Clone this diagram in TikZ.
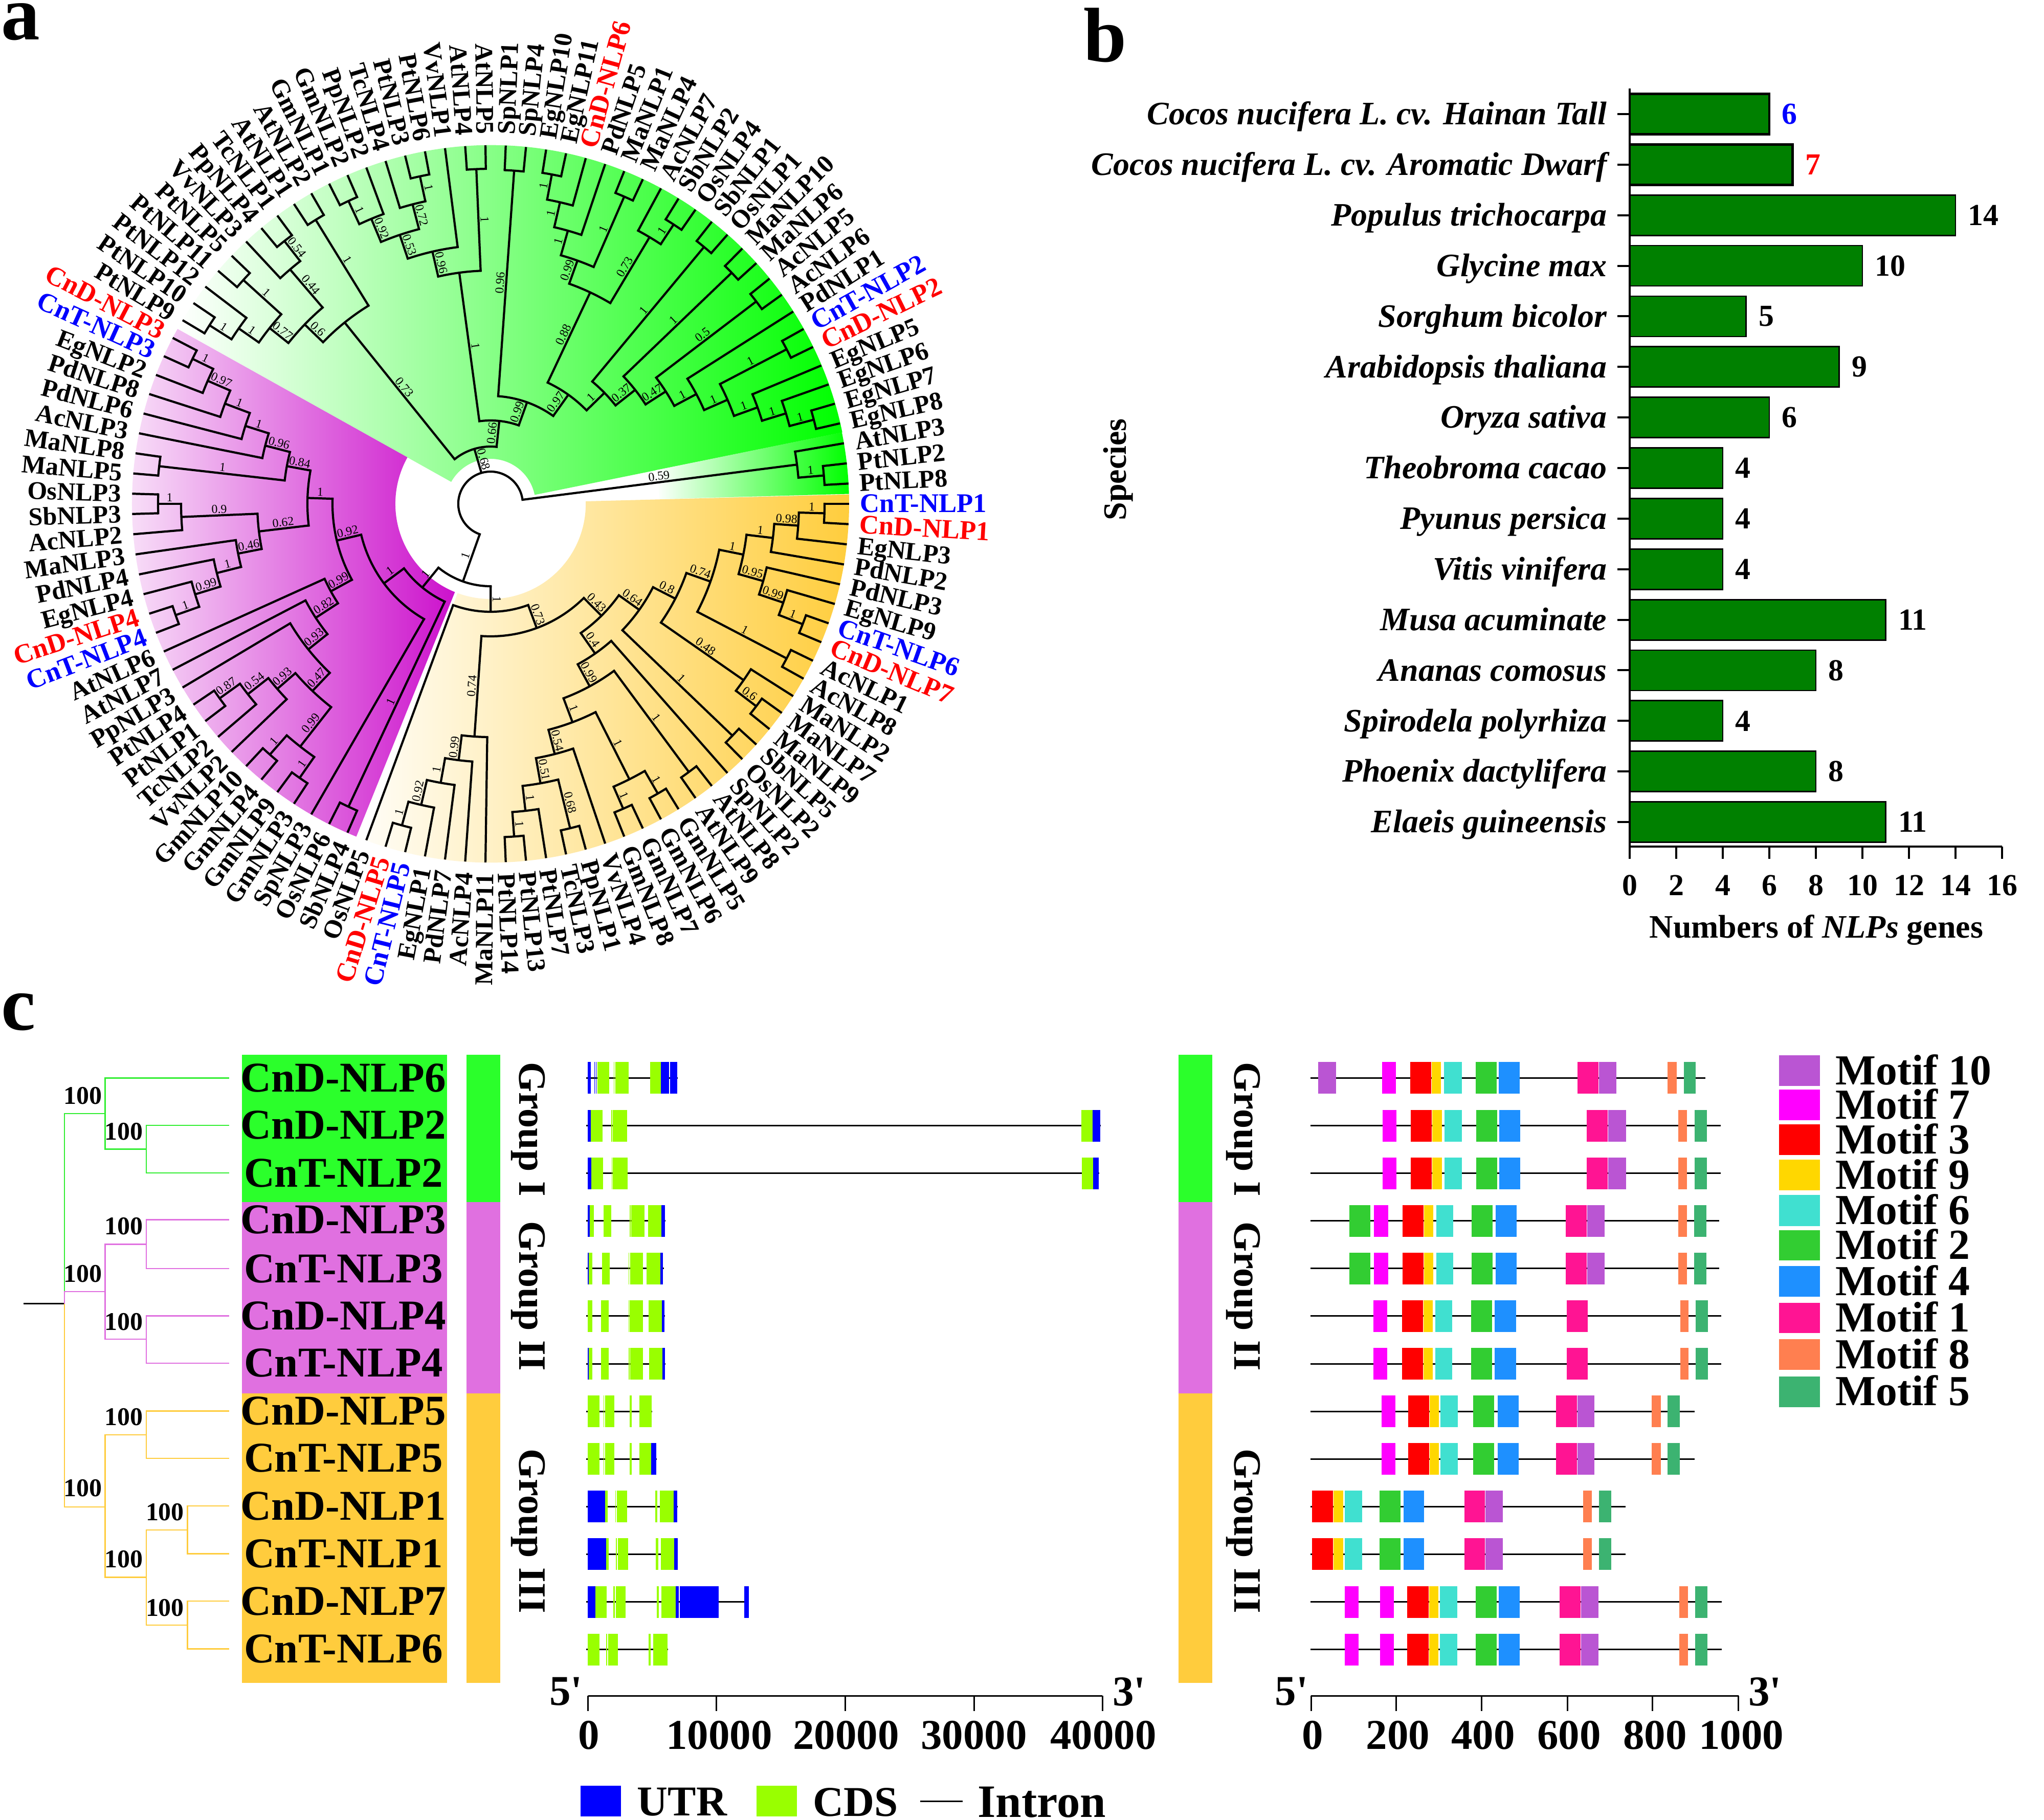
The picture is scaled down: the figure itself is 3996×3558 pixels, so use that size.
\documentclass[tikz,border=0pt]{standalone}
\usepackage{fontspec}
\setmainfont{Liberation Serif}
\newcommand\fsz[1]{\fontsize{#1}{#1}\selectfont}
\newcommand\rd[1]{\textcolor{red}{\fsz{15pt}#1}}
\newcommand\bl[1]{\textcolor{blue}{\fsz{15pt}#1}}
\definecolor{grpG}{HTML}{2BFF2B}
\definecolor{grpP}{HTML}{E070E0}
\definecolor{grpY}{HTML}{FFCC3D}
\definecolor{treeG}{HTML}{33EE33}
\definecolor{U}{HTML}{0000FF}
\definecolor{C}{HTML}{99FF00}
\definecolor{Ma}{HTML}{BA55D3}
\definecolor{Mb}{HTML}{FF00FF}
\definecolor{Mc}{HTML}{FF0000}
\definecolor{Md}{HTML}{FFD700}
\definecolor{Me}{HTML}{40E0D0}
\definecolor{Mf}{HTML}{32CD32}
\definecolor{Mg}{HTML}{1E90FF}
\definecolor{Mh}{HTML}{FF1493}
\definecolor{Mi}{HTML}{FF7F50}
\definecolor{Mj}{HTML}{3CB371}
\definecolor{barG}{HTML}{008000}
\definecolor{purL}{RGB}{250,232,250}
\definecolor{purR}{RGB}{204,17,204}
\definecolor{yelL}{RGB}{255,253,246}
\definecolor{yelR}{RGB}{255,205,60}
\tikzset{
  branch/.style={line width=1.2pt,black},
  suplab/.style={font=\fsz{6.8pt},inner sep=1pt,text height=4.5pt,text depth=0pt},
  leaflab/.style={font=\bfseries\fsz{14.2pt},inner sep=0pt,text height=9.4pt,text depth=0pt},
  panel/.style={font=\bfseries\fsz{43pt},inner sep=0pt,anchor=base west},
  spec/.style={font=\bfseries\itshape\fsz{18.2pt},inner sep=0pt,anchor=east,text height=12.3pt,text depth=3.9pt},
  numb/.style={font=\bfseries\fsz{17pt},inner sep=0pt},
  ttl/.style={font=\bfseries\fsz{18.2pt},inner sep=0pt},
  axl/.style={line width=1.14pt,black},
  big/.style={font=\bfseries\fsz{23.6pt},inner sep=0pt},
  grplab/.style={font=\bfseries\fsz{21.6pt},inner sep=0pt,rotate=-90},
  boot/.style={font=\bfseries\fsz{14.2pt},inner sep=0pt},
  intron/.style={line width=.85pt,black},
  motif/.style={font=\bfseries\fsz{23.8pt},inner sep=0pt,anchor=west},
  tlg/.style={line width=.7pt,treeG},
  tlp/.style={line width=.7pt,grpP},
  tly/.style={line width=.7pt,grpY}
}
% clade: name, radius, child, child, support of the branch leading to it
\newcommand\brn[2]{%
  \edef\chang{\csname a@#2\endcsname}%
  \edef\chrad{\csname r@#2\endcsname}%
  \draw[branch] (\chang:#1) -- (\chang:\chrad);
  \edef\supt{\csname s@#2\endcsname}%
  \ifx\supt\empty\else
    \pgfmathsetmacro\midr{(#1+\chrad)/2}%
    \pgfmathtruncatemacro\flp{cos(\chang)<0 ? 1 : 0}%
    \pgfmathsetmacro\rtt{\chang+180*\flp}%
    \node[suplab,rotate=\rtt,anchor=south] at (\chang:\midr) {\supt};
  \fi
}
\newcommand\cln[5]{%
  \pgfmathsetmacro\angA{\csname a@#3\endcsname}%
  \pgfmathsetmacro\angB{\csname a@#4\endcsname}%
  \pgfmathsetmacro\angM{(\angA+\angB)/2}%
  \expandafter\xdef\csname a@#1\endcsname{\angM}%
  \expandafter\xdef\csname r@#1\endcsname{#2}%
  \expandafter\gdef\csname s@#1\endcsname{#5}%
  \draw[branch,line cap=rect] (\angA:#2) arc[start angle=\angA,end angle=\angB,radius=#2*0.28453pt];
  \brn{#2}{#3}\brn{#2}{#4}%
}
\newcommand\sect[4]{(#1:#4) arc[start angle=#1,end angle=#2,radius=#4*0.28453pt] -- (#2:#3) arc[start angle=#2,end angle=#1,radius=#3*0.28453pt] -- cycle}
\newcommand\grow[3]{%
  \pgfmathsetmacro\yy{2107.4+93.1*#1}%
  \draw[intron] (56,\yy) -- (#2,\yy);
  \foreach \pa/\pb/\colr in {#3}{\fill[fill=\colr] (\pa,\yy-31) rectangle (\pb,\yy+31);}
}
\newcommand\mrow[3]{%
  \pgfmathsetmacro\yy{2107.4+93.1*#1}%
  \draw[intron] (242,\yy) -- (#2,\yy);
  \foreach \pa/\pb/\colr in {#3}{\fill[fill=\colr] (\pa,\yy-31) rectangle (\pb,\yy+31);}
}
\begin{document}
\begin{tikzpicture}[x=0.01cm,y=-0.01cm]
\fill[white] (0,0) rectangle (3996,3558);
\useasboundingbox (0,0) rectangle (3996,3558);
% ---------- panel letters
\node[panel] (pa) at (2,78) {a};
\node[panel] (pb) at (2118,121) {b};
\node[panel] (pc) at (2,2013) {c};
% ---------- panel a
\begin{scope}[shift={(959,985)},y=0.01cm]
\shade[left color=white,right color=green] \sect{150.8}{11.5}{88}{701};
\shade[left color=white,right color=green] \sect{11.5}{1.6}{330}{701};
\shade[left color=purL,right color=purR] \sect{-209.2}{-112}{186}{701};
\shade[left color=yelL,right color=yelR] \sect{1.5}{-110.3}{186}{701};
\foreach \i in {0,...,110}{%
  \pgfmathsetmacro\tmpa{-3.24324*\i}%
  \expandafter\xdef\csname a@L\i\endcsname{\tmpa}%
  \expandafter\xdef\csname r@L\i\endcsname{701}%
  \expandafter\gdef\csname s@L\i\endcsname{}%
}
% yellow
\cln{Y26}{653}{L0}{L1}{1}
\cln{Y25}{603}{L2}{Y26}{0.98}
\cln{Y22}{556}{L3}{Y25}{1}
\cln{Y24}{654}{L6}{L7}{1}
\cln{Y23}{604}{L5}{Y24}{0.99}
\cln{Y21}{554}{L4}{Y23}{0.95}
\cln{Y20}{504}{Y21}{Y22}{1}
\cln{Y19}{653}{L8}{L9}{1}
\cln{Y17}{456}{Y19}{Y20}{0.74}
\cln{Y18}{653}{L11}{L12}{0.6}
\cln{Y16}{603}{L10}{Y18}{0.48}
\cln{Y15}{406}{Y16}{Y17}{0.8}
\cln{Y14}{655}{L13}{L14}{1}
\cln{Y9}{357}{Y14}{Y15}{0.64}
\cln{Y34}{652}{L26}{L27}{1}
\cln{Y32}{604}{L25}{Y34}{1}
\cln{Y33}{653}{L23}{L24}{0.68}
\cln{Y31}{555}{Y32}{Y33}{0.51}
\cln{Y27}{505}{L22}{Y31}{0.54}
\cln{Y29}{650}{L20}{L21}{1}
\cln{Y30}{654}{L18}{L19}{1}
\cln{Y28}{603}{Y29}{Y30}{1}
\cln{Y12}{456}{Y27}{Y28}{1}
\cln{Y13}{652}{L16}{L17}{1}
\cln{Y10}{406}{Y12}{Y13}{0.99}
\cln{Y8}{357}{Y10}{L15}{0.4}
\cln{Y3}{308}{Y8}{Y9}{0.43}
\cln{Y7}{652}{L32}{L33}{1}
\cln{Y6}{604}{L31}{Y7}{0.92}
\cln{Y5}{554}{L30}{Y6}{1}
\cln{Y4}{505}{L29}{Y5}{0.99}
\cln{Y2}{456}{L28}{Y4}{0.74}
\cln{Y1}{259}{Y2}{Y3}{0.73}
\cln{Y0}{211}{L34}{Y1}{1}
% purple
\cln{P2}{654}{L35}{L36}{1}
\cln{P14}{653}{L38}{L39}{1}
\cln{P13}{653}{L40}{L41}{1}
\cln{P10}{603}{P13}{P14}{0.99}
\cln{P12}{652}{L44}{L45}{0.87}
\cln{P11}{603}{P12}{L43}{0.54}
\cln{P9}{552}{P11}{L42}{0.93}
\cln{P8}{505}{P9}{P10}{0.47}
\cln{P7}{456}{L46}{P8}{0.93}
\cln{P6}{408}{L47}{P7}{0.82}
\cln{P5}{356}{L48}{P6}{0.99}
\cln{P22}{653}{L49}{L50}{1}
\cln{P21}{604}{L51}{P22}{0.99}
\cln{P20}{552}{L52}{P21}{1}
\cln{P18}{503}{L53}{P20}{0.46}
\cln{P19}{650}{L55}{L56}{1}
\cln{P17}{605}{L54}{P19}{0.9}
\cln{P16}{456}{P17}{P18}{0.62}
\cln{P28}{648}{L63}{L64}{1}
\cln{P27}{603}{L62}{P28}{0.97}
\cln{P26}{555}{L61}{P27}{1}
\cln{P25}{503}{L60}{P26}{1}
\cln{P23}{455}{L59}{P25}{0.96}
\cln{P24}{652}{L57}{L58}{1}
\cln{P15}{405}{P23}{P24}{0.84}
\cln{P4}{358}{P15}{P16}{1}
\cln{P3}{309}{P4}{P5}{0.92}
\cln{P1}{260}{P3}{L37}{1}
\cln{P0}{211}{P1}{P2}{1}
% green
\cln{G9}{651}{L65}{L66}{1}
\cln{G7}{600}{G9}{L67}{1}
\cln{G8}{652}{L68}{L69}{1}
\cln{G5}{552}{G7}{G8}{0.77}
\cln{G10}{653}{L71}{L72}{0.54}
\cln{G6}{603}{L70}{G10}{0.44}
\cln{G3}{505}{G5}{G6}{0.6}
\cln{G4}{652}{L73}{L74}{1}
\cln{G1}{455}{G3}{G4}{0.73}
\cln{G19}{654}{L75}{L76}{1}
\cln{G17}{604}{G19}{L77}{0.92}
\cln{G20}{655}{L79}{L80}{1}
\cln{G18}{605}{L78}{G20}{0.72}
\cln{G15}{555}{G17}{G18}{0.53}
\cln{G13}{506}{G15}{L81}{0.96}
\cln{G14}{655}{L82}{L83}{1}
\cln{G11}{456}{G13}{G14}{1}
\cln{G21}{653}{L84}{L85}{0.96}
\cln{Bab}{655}{L86}{L87}{1}
\cln{G28}{605}{Bab}{L88}{1}
\cln{G29}{555}{G28}{L89}{1}
\cln{Bcd}{655}{L90}{L91}{1}
\cln{G25}{505}{G29}{Bcd}{0.99}
\cln{Bef}{653}{L93}{L94}{1}
\cln{G26}{607}{L92}{Bef}{0.73}
\cln{G23}{457}{G25}{G26}{0.88}
\cln{G32}{653}{L95}{L96}{1}
\cln{G34}{653}{L97}{L98}{1}
\cln{G36}{653}{L99}{L100}{0.5}
\cln{Bgh}{653}{L102}{L103}{1}
\cln{G40}{653}{L106}{L107}{1}
\cln{G39}{604}{L105}{G40}{1}
\cln{Gbb}{555}{L104}{G39}{1}
\cln{G38}{506}{Bgh}{Gbb}{1}
\cln{G37}{456}{L101}{G38}{1}
\cln{G35}{407}{G36}{G37}{0.47}
\cln{G33}{360}{G34}{G35}{0.37}
\cln{G24}{311}{G32}{G33}{1}
\cln{G22}{262}{G23}{G24}{0.97}
\cln{G12}{211}{G21}{G22}{0.99}
\cln{G2}{163}{G11}{G12}{0.66}
\cln{G0}{112}{G1}{G2}{0.68}
\cln{W1}{654}{L109}{L110}{1}
\cln{W}{604}{L108}{W1}{0.59}
\cln{A}{161}{P0}{Y0}{1}
% root
\pgfmathsetmacro\angA{\csname a@W\endcsname}
\pgfmathsetmacro\angB{\csname a@A\endcsname}
\draw[branch,line cap=rect] (\angA:63) arc[start angle=\angA,end angle=\angB,radius=63*0.28453pt];
\brn{63}{W}\brn{63}{G0}\brn{63}{A}
% leaf labels
\foreach \nm [count=\i from 0] in {\bl{CnT-NLP1},\rd{CnD-NLP1},EgNLP3,PdNLP2,PdNLP3,EgNLP9,\bl{CnT-NLP6},\rd{CnD-NLP7},AcNLP1,AcNLP8,MaNLP2,MaNLP7,MaNLP9,SbNLP5,OsNLP2,SpNLP2,AtNLP8,AtNLP9,GmNLP5,GmNLP6,GmNLP7,GmNLP8,VvNLP4,PpNLP1,TcNLP3,PtNLP7,PtNLP13,PtNLP14,MaNLP11,AcNLP4,PdNLP7,EgNLP1,\bl{CnT-NLP5},\rd{CnD-NLP5},OsNLP5,SbNLP4,OsNLP6,SpNLP3,GmNLP3,GmNLP9,GmNLP4,GmNLP10,VvNLP2,TcNLP2,PtNLP1,PtNLP4,PpNLP3,AtNLP7,AtNLP6,\bl{CnT-NLP4},\rd{CnD-NLP4},EgNLP4,PdNLP4,MaNLP3,AcNLP2,SbNLP3,OsNLP3,MaNLP5,MaNLP8,AcNLP3,PdNLP6,PdNLP8,EgNLP2,\bl{CnT-NLP3},\rd{CnD-NLP3},PtNLP9,PtNLP10,PtNLP12,PtNLP11,PtNLP5,VvNLP3,PpNLP4,TcNLP1,AtNLP1,AtNLP2,GmNLP1,GmNLP2,PpNLP2,TcNLP4,PtNLP3,PtNLP6,VvNLP1,AtNLP4,AtNLP5,SpNLP1,SpNLP4,EgNLP10,EgNLP11,\rd{CnD-NLP6},PdNLP5,MaNLP1,MaNLP4,AcNLP7,SbNLP2,OsNLP4,SbNLP1,OsNLP1,MaNLP10,MaNLP6,AcNLP5,AcNLP6,PdNLP1,\bl{CnT-NLP2},\rd{CnD-NLP2},EgNLP5,EgNLP6,EgNLP7,EgNLP8,AtNLP3,PtNLP2,PtNLP8}{%
  \pgfmathsetmacro\lang{-3.24324*\i}%
  \pgfmathtruncatemacro\flp{cos(\lang)<0 ? 1 : 0}%
  \ifnum\flp=1
    \node[leaflab,rotate=\lang+180,anchor=east] (lf\i) at (\lang:722) {\nm};
  \else
    \node[leaflab,rotate=\lang,anchor=west] (lf\i) at (\lang:722) {\nm};
  \fi
}
\end{scope}
% ---------- panel b
\foreach \nm/\vl/\colr [count=\k from 0] in {Cocos nucifera L. cv. Hainan Tall/6/blue,Cocos nucifera L. cv. Aromatic Dwarf/7/red,Populus trichocarpa/14/black,Glycine max/10/black,Sorghum bicolor/5/black,Arabidopsis thaliana/9/black,Oryza sativa/6/black,Theobroma cacao/4/black,Pyunus persica/4/black,Vitis vinifera/4/black,Musa acuminate/11/black,Ananas comosus/8/black,Spirodela polyrhiza/4/black,Phoenix dactylifera/8/black,Elaeis guineensis/11/black}{%
  \pgfmathsetmacro\yb{223+98.86*\k}%
  \pgfmathsetmacro\xb{3186+45.5*\vl}%
  \ifnum\k<2
    \draw[fill=barG,draw=black,line width=1.3pt] (3186,\yb-39.5) rectangle (\xb,\yb+39.5);
  \else
    \draw[fill=barG,draw=black,line width=.8pt] (3186,\yb-39.5) rectangle (\xb,\yb+39.5);
  \fi
  \draw[axl] (3162,\yb) -- (3186,\yb);
  \node[spec] (sp\k) at (3142,\yb+6) {\nm};
  \node[numb,anchor=west,text=\colr] (vl\k) at (\xb+24,\yb) {\vl};
}
\coordinate (ytop) at (3186,173);
\coordinate (orig) at (3186,1655);
\coordinate (xend) at (3914,1655);
\draw[axl] (ytop) -- (orig) -- (xend);
\foreach \v in {0,2,...,16}{%
  \pgfmathsetmacro\xb{3186+45.5*\v}%
  \draw[axl] (\xb,1655) -- (\xb,1679);
  \node[numb] (xt\v) at (\xb,1731) {\v};
}
\node[ttl] (xttl) at (3551,1818) {Numbers of \textit{NLPs} genes};
\node[ttl,rotate=90] (yttl) at (2186,918) {Species};
% ---------- panel c tree (coordinates of the 1300x1558 crop)
\begin{scope}[shift={(0,2000)},x=0.00829cm,y=-0.00994cm]
\fill[grpG] (571,62) rectangle (1054,352);
\fill[grpP] (571,352) rectangle (1054,728);
\fill[grpY] (571,728) rectangle (1054,1298);
\fill[grpG] (1100,62) rectangle (1180,352);
\fill[grpP] (1100,352) rectangle (1180,728);
\fill[grpY] (1100,728) rectangle (1180,1298);
\foreach \n/\yy [count=\i from 0] in {CnD-NLP6/108,CnD-NLP2/201,CnT-NLP2/295,CnD-NLP3/387,CnT-NLP3/483,CnD-NLP4/576,CnT-NLP4/669,CnD-NLP5/763,CnT-NLP5/856,CnD-NLP1/950,CnT-NLP1/1044,CnD-NLP7/1137,CnT-NLP6/1231}{%
  \coordinate (t\i) at (540,\yy);
  \node[big] (nm\i) at (810,\yy) {\n};
}
\coordinate (cs) at (55,552);
\coordinate (c0) at (152,552);
\coordinate (cg) at (248,178);
\coordinate (cp) at (248,528);
\coordinate (cy) at (248,952);
\coordinate (cgb) at (345,248);
\coordinate (cpa) at (345,435);
\coordinate (cpb) at (345,622);
\coordinate (cya) at (345,810);
\coordinate (cyb) at (345,1090);
\coordinate (cyc) at (442,997);
\coordinate (cyd) at (442,1184);
\draw[line width=.7pt,black] (cs) -- (c0);
\draw[tlg] (c0) |- (cg);
\draw[tlg] (cg) |- (t0);
\draw[tlg] (cg) |- (cgb);
\draw[tlg] (cgb) |- (t1);
\draw[tlg] (cgb) |- (t2);
\draw[tlp] (c0) |- (cp);
\draw[tlp] (cp) |- (cpa);
\draw[tlp] (cp) |- (cpb);
\draw[tlp] (cpa) |- (t3);
\draw[tlp] (cpa) |- (t4);
\draw[tlp] (cpb) |- (t5);
\draw[tlp] (cpb) |- (t6);
\draw[tly] (c0) |- (cy);
\draw[tly] (cy) |- (cya);
\draw[tly] (cy) |- (cyb);
\draw[tly] (cya) |- (t7);
\draw[tly] (cya) |- (t8);
\draw[tly] (cyb) |- (cyc);
\draw[tly] (cyb) |- (cyd);
\draw[tly] (cyc) |- (t9);
\draw[tly] (cyc) |- (t10);
\draw[tly] (cyd) |- (t11);
\draw[tly] (cyd) |- (t12);
\foreach \xx/\yy [count=\i] in {195/143,292/213,292/400,195/493,292/588,292/775,195/915,389/962,292/1055,389/1150}{%
  \node[boot] (bs\i) at (\xx,\yy) {100};
}
\node[grplab] (ga) at (1245,209) {Group I};
\node[grplab] (gb) at (1245,537) {Group II};
\node[grplab] (gc) at (1245,999) {Group III};
\end{scope}
% ---------- gene structure (coordinates of crop starting at x=1100)
\begin{scope}[shift={(1100,0)},x=0.00829cm]
\grow{0}{271}{59/66/U,75/76/U,78/80/U,82/110/C,121/122/C,124/155/C,206/232/C,232/251/U,253/270/U}
\grow{1}{1269}{59/66/U,66/94/C,115/117/C,118/152/C,1223/1250/C,1250/1268/U}
\grow{2}{1265}{59/67/U,67/95/C,116/117/C,118/153/C,1224/1251/C,1251/1264/U}
\grow{3}{242}{59/64/U,64/74/C,96/114/C,158/160/C,162/193/C,202/233/C,233/241/U}
\grow{4}{239}{59/62/U,62/70/C,93/111/C,155/157/C,159/189/C,198/230/C,230/237/U}
\grow{5}{241}{59/61/C,62/70/C,90/108/C,155/157/C,158/189/C,203/234/C,234/240/U}
\grow{6}{243}{59/61/U,61/70/C,91/109/C,156/158/C,159/189/C,204/235/C,235/241/U}
\grow{7}{211}{59/87/C,96/98/C,100/122/C,158/163/C,181/210/C}
\grow{8}{222}{59/87/C,96/98/C,100/122/C,158/163/C,181/209/C,209/221/U}
\grow{9}{271}{59/100/U,100/106/C,124/126/C,128/152/C,218/223/C,229/262/C,262/270/U}
\grow{10}{272}{59/102/U,102/109/C,126/128/C,130/154/C,220/225/C,231/263/C,263/271/U}
\grow{11}{439}{59/77/U,77/104/C,120/123/C,125/148/C,222/227/C,233/266/C,266/274/U,276/368/U,428/439/U}
\grow{12}{248}{59/87/C,103/105/C,107/130/C,203/208/C,214/247/C}
\coordinate (ga0) at (60,3315);
\coordinate (ga1) at (1273,3315);
\draw[axl,line width=.85pt] (ga0) -- (ga1);
\foreach \dd/\cc/\lb in {60/62/0,363/369/10000,666/668/20000,970/970/30000,1273/1275/40000}{%
  \draw[axl,line width=.85pt] (\dd,3315) -- (\dd,3345);
  \node[big] (gt\lb) at (\cc,3392) {\lb};
}
\node[big] (gf) at (8,3307) {5\textquotesingle};
\node[big] (gr) at (1336,3307) {3\textquotesingle};
\fill[U] (42,3491) rectangle (138,3551);
\node[big,anchor=west] (lu) at (175,3523) {UTR};
\fill[C] (457,3491) rectangle (552,3551);
\node[big,anchor=west] (lc) at (590,3523) {CDS};
\coordinate (ila) at (843,3521);
\coordinate (ilb) at (943,3521);
\draw[intron] (ila) -- (ilb);
\node[big,anchor=west,font=\bfseries\fsz{25.8pt}] (li) at (978,3523) {Intron};
\end{scope}
% ---------- motif structure (coordinates of crop starting at x=2300)
\begin{scope}[shift={(2300,0)},x=0.010816cm]
\fill[grpG] (4,2062) rectangle (65,2350);
\fill[grpP] (4,2350) rectangle (65,2724);
\fill[grpY] (4,2724) rectangle (65,3290);
\node[grplab] (ha) at (121,2208) {Group I};
\node[grplab] (hb) at (121,2534) {Group II};
\node[grplab] (hc) at (121,2993) {Group III};
\mrow{0}{955}{256/288/Ma,371/396/Mb,422/460/Mc,461/478/Md,483/515/Me,540/578/Mf,582/620/Mg,724/762/Mh,763/794/Ma,887/903/Mi,916/938/Mj}
\foreach \r in {1,2}{\mrow{\r}{983}{372/397/Mb,423/461/Mc,462/479/Md,484/515/Me,541/579/Mf,583/621/Mg,741/779/Mh,780/812/Ma,906/922/Mi,936/958/Mj}}
\foreach \r in {3,4}{\mrow{\r}{980}{312/350/Mf,357/382/Mb,408/446/Mc,447/464/Md,469/500/Me,533/571/Mf,576/614/Mg,703/741/Mh,742/773/Ma,906/922/Mi,935/957/Mj}}
\foreach \r in {5,6}{\mrow{\r}{984}{356/381/Mb,407/445/Mc,446/463/Md,467/498/Me,532/570/Mf,575/613/Mg,705/743/Mh,910/925/Mi,938/960/Mj}}
\foreach \r in {7,8}{\mrow{\r}{936}{370/395/Mb,418/456/Mc,457/474/Md,477/508/Me,536/574/Mf,580/618/Mg,685/723/Mh,724/755/Ma,858/875/Mi,887/909/Mj}}
\foreach \r in {9,10}{\mrow{\r}{811}{245/283/Mc,284/301/Md,304/335/Me,367/405/Mf,410/447/Mg,520/557/Mh,558/589/Ma,734/750/Mi,763/785/Mj}}
\foreach \r in {11,12}{\mrow{\r}{985}{304/329/Mb,368/393/Mb,417/455/Mc,456/473/Md,476/507/Me,540/578/Mf,582/620/Mg,692/730/Mh,731/762/Ma,908/924/Mi,937/959/Mj}}
\coordinate (ma0) at (243,3315);
\coordinate (ma1) at (1015,3315);
\draw[axl,line width=.85pt] (ma0) -- (ma1);
\foreach \dd/\cc/\lb in {243/246/0,397/400/200,551/554/400,706/709/600,860/864/800,1015/1020/1000}{%
  \draw[axl,line width=.85pt] (\dd,3315) -- (\dd,3345);
  \node[big] (mt\lb) at (\cc,3392) {\lb};
}
\node[big] (mf) at (208,3307) {5\textquotesingle};
\node[big] (mr) at (1063,3307) {3\textquotesingle};
\foreach \nm/\cl/\yb/\ye in {10/Ma/63/124,7/Mb/131/191,3/Mc/199/260,9/Md/269/329,6/Me/338/399,2/Mf/407/467,4/Mg/478/538,1/Mh/550/610,8/Mi/622/682,5/Mj/695/755}{%
  \fill[fill=\cl] (1088,2000+\yb/1.006) rectangle (1162,2000+\ye/1.006);
  \pgfmathsetmacro\ym{2000+(\yb+\ye)/2/1.006}%
  \node[motif] (ml\nm) at (1190,\ym-2) {Motif \nm};
}
\end{scope}
\end{tikzpicture}
\end{document}
